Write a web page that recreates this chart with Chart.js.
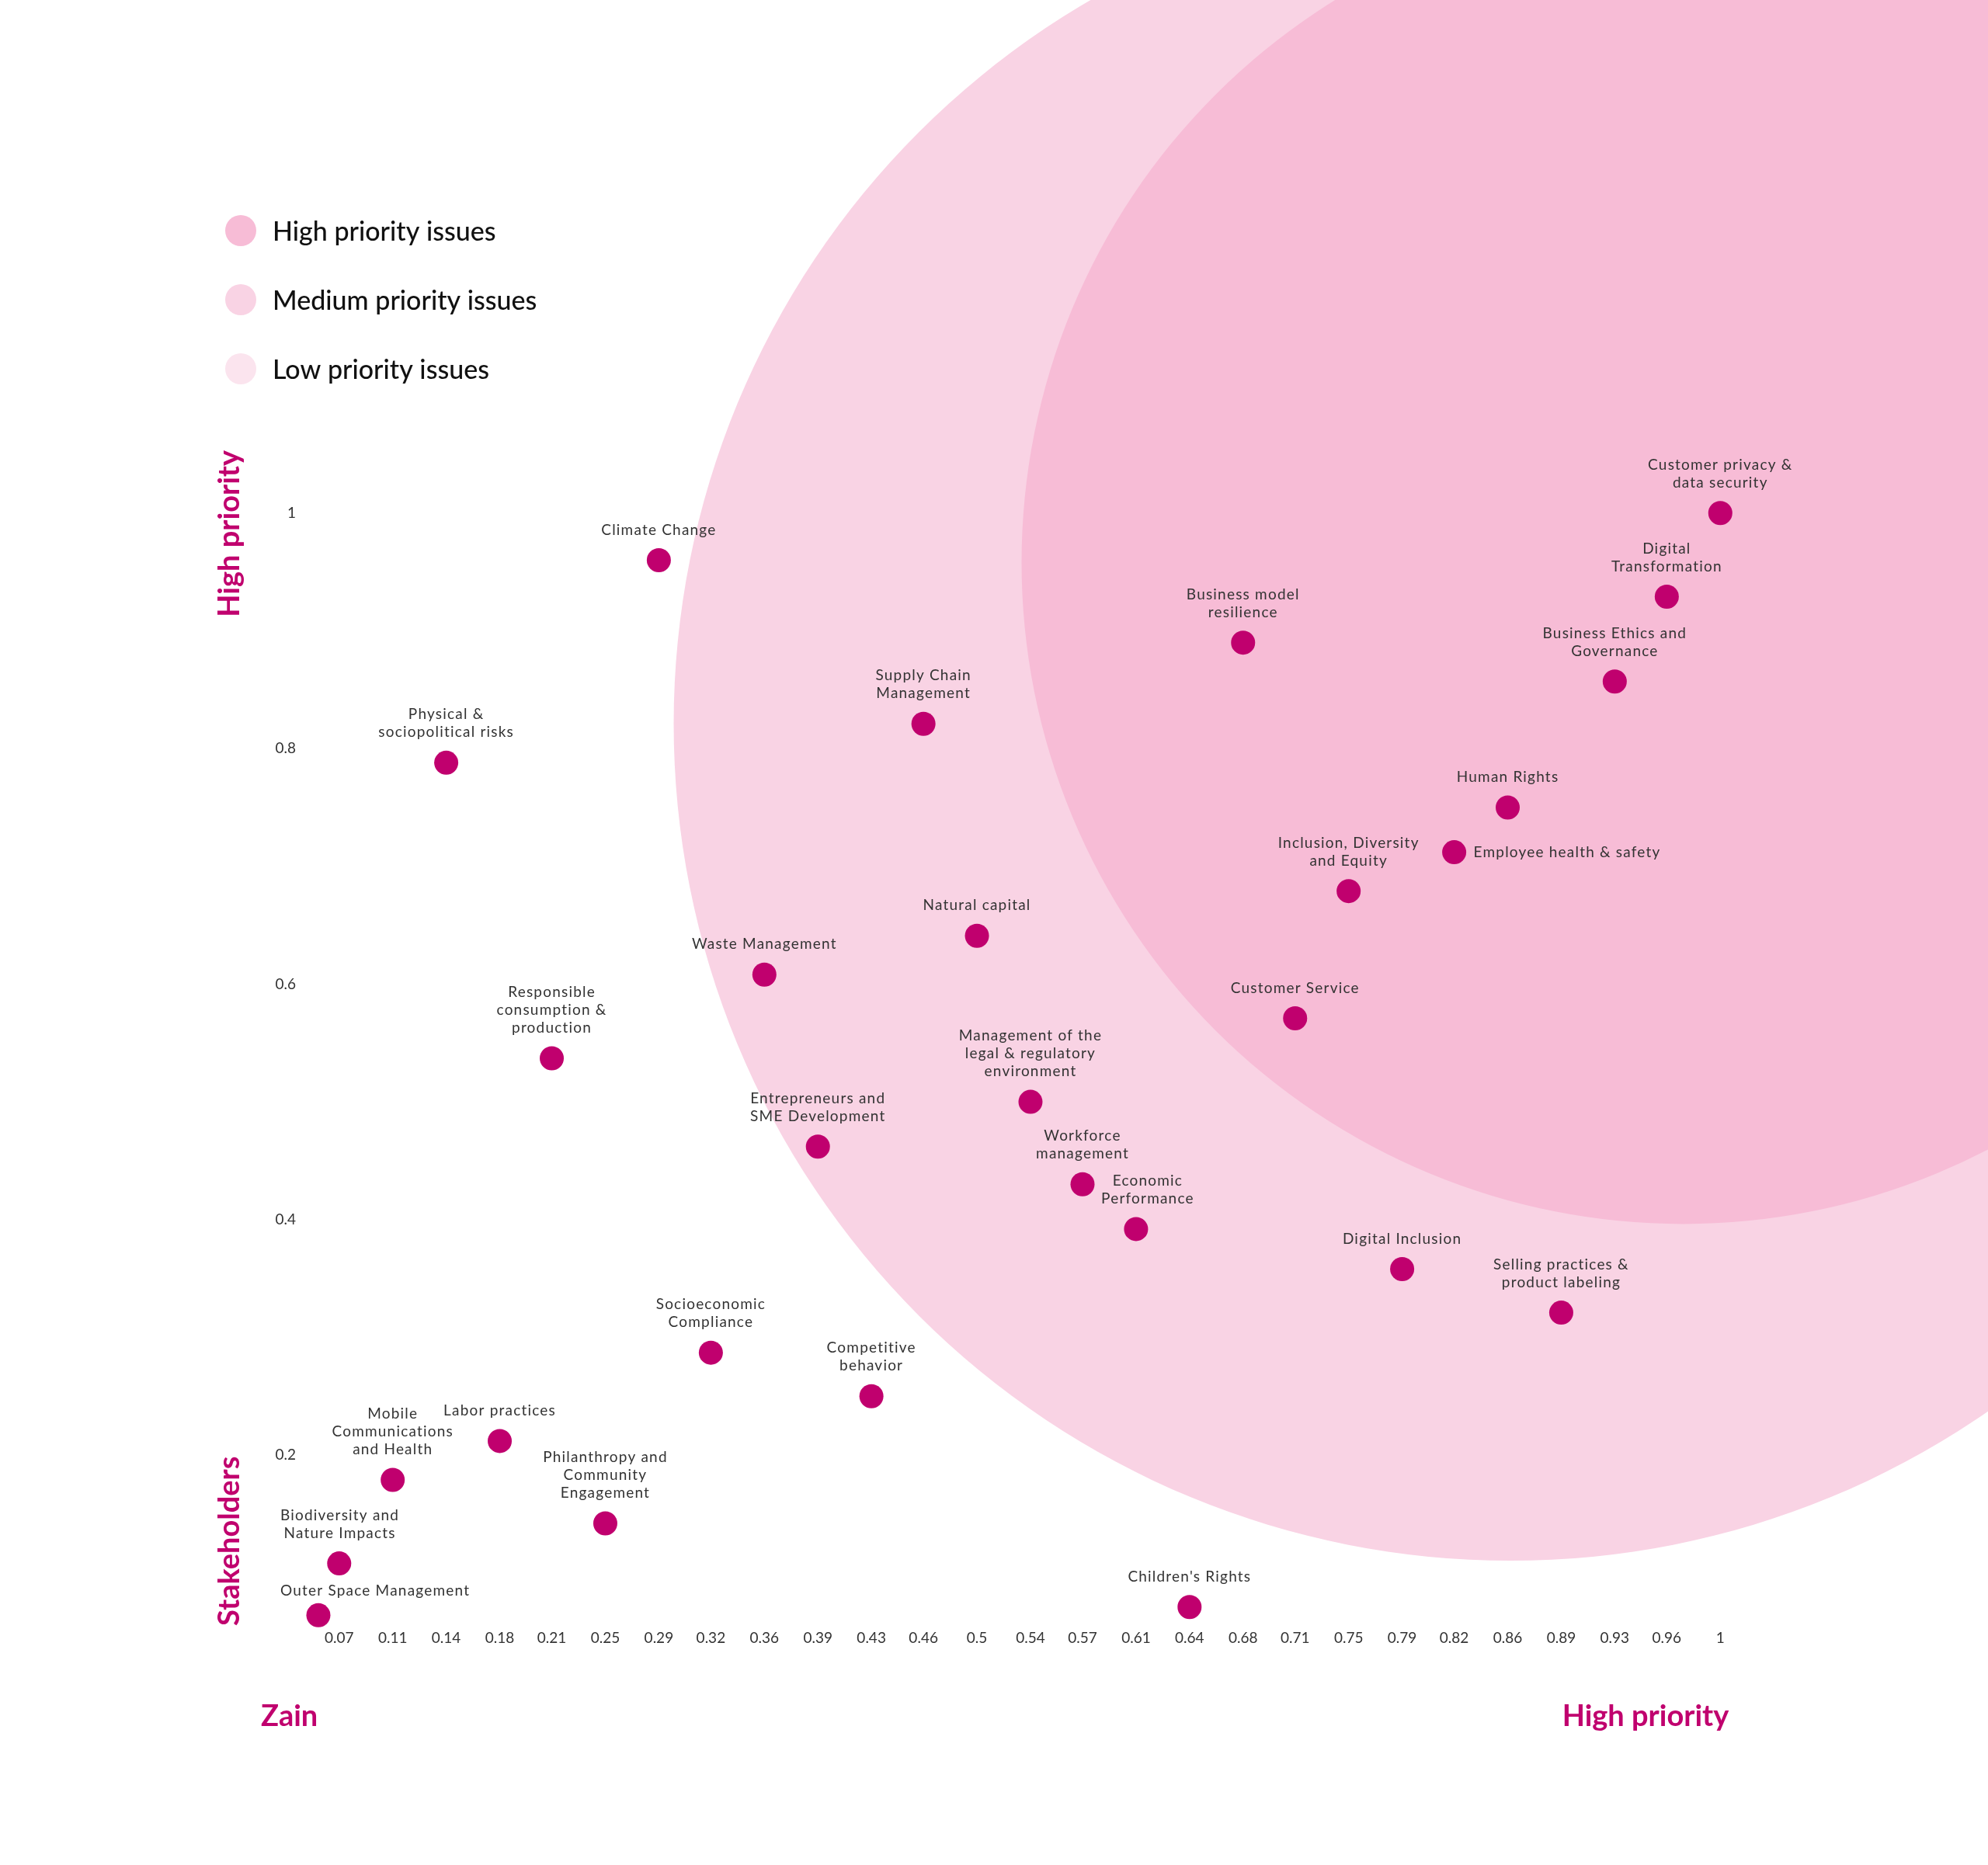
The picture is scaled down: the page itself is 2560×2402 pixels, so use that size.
<!DOCTYPE html>
<html>
<head>
<meta charset="utf-8">
<title>Materiality matrix</title>
<script src="https://cdn.jsdelivr.net/npm/chart.js@4.4.1/dist/chart.umd.min.js"></script>
<style>
  html, body { margin: 0; padding: 0; background: #fff; }
  #wrap { position: relative; width: 2560px; height: 2402px; }
</style>
</head>
<body>
<div id="wrap"><canvas id="matrix-chart"></canvas></div>
<script>
// one entry per issue, each label split in the lines it is printed on
const issueNames = [
    ['Customer privacy &', 'data security'],
    ['Digital', 'Transformation'],
    ['Business Ethics and', 'Governance'],
    ['Business model', 'resilience'],
    ['Climate Change'],
    ['Supply Chain', 'Management'],
    ['Physical &', 'sociopolitical risks'],
    ['Human Rights'],
    ['Employee health & safety'],
    ['Inclusion, Diversity', 'and Equity'],
    ['Natural capital'],
    ['Waste Management'],
    ['Customer Service'],
    ['Responsible', 'consumption &', 'production'],
    ['Management of the', 'legal & regulatory', 'environment'],
    ['Entrepreneurs and', 'SME Development'],
    ['Workforce', 'management'],
    ['Economic', 'Performance'],
    ['Digital Inclusion'],
    ['Selling practices &', 'product labeling'],
    ['Socioeconomic', 'Compliance'],
    ['Competitive', 'behavior'],
    ['Labor practices'],
    ['Mobile', 'Communications', 'and Health'],
    ['Philanthropy and', 'Community', 'Engagement'],
    ['Biodiversity and', 'Nature Impacts'],
    ["Children's Rights"],
    ['Outer Space Management']
];

// importance to Zain (x) and to stakeholders (y)
const zainScores = [
    1, 0.964, 0.929, 0.679, 0.286, 0.464, 0.143, 0.857, 0.821, 0.75,
    0.5, 0.357, 0.714, 0.214, 0.536, 0.393, 0.571, 0.607, 0.786, 0.893,
    0.321, 0.429, 0.179, 0.107, 0.25, 0.071, 0.643, 0.057
];
const stakeholderScores = [
    1, 0.929, 0.857, 0.89, 0.96, 0.821, 0.788, 0.75, 0.712, 0.679,
    0.641, 0.608, 0.571, 0.537, 0.5, 0.462, 0.43, 0.392, 0.358, 0.321,
    0.287, 0.25, 0.212, 0.179, 0.142, 0.108, 0.071, 0.064
];

const xTicks = [
    0.071, 0.107, 0.143, 0.179, 0.214, 0.25, 0.286, 0.321, 0.357, 0.393,
    0.429, 0.464, 0.5, 0.536, 0.571, 0.607, 0.643, 0.679, 0.714, 0.75,
    0.786, 0.821, 0.857, 0.893, 0.929, 0.964, 1
];
const yTicks = [0.2, 0.4, 0.6, 0.8, 1];

const priorityNames = ['High priority issues', 'Medium priority issues', 'Low priority issues'];
const priorityColors = ['#F7BCD6', '#F9D3E4', '#FBE4EE'];

// priority zones: centre and radius (radius in x axis units)
const highZone = [{x: 0.975, y: 0.958, r: 0.445}];
const mediumZone = [{x: 0.859, y: 0.821, r: 0.563}];

// labels written beside the dot instead of above it
const sideLabels = ['Employee health & safety'];
// labels moved a little to keep clear of a neighbour (pixels)
const labelNudges = {
    'Economic Performance': { dx: 15, dy: 0 },
    'Outer Space Management': { dx: 0, dy: 8 }
};

const MAGENTA = '#C0006E';
const LABEL_FONT = '19px Lato';

function issuePoints() {
    var pts = [];
    for (let i = 0; i < zainScores.length; i++) {
        pts.push({ x: zainScores[i], y: stakeholderScores[i] });
    }
    return pts;
}

function zoneRadius(context) {
    const raw = context.raw;
    if (!raw) return 0;
    const xs = context.chart.scales.x;
    return xs.getPixelForValue(raw.r) - xs.getPixelForValue(0);
}

function fmtTick(v) {
    return String(Math.round(v * 100) / 100);
}

const issueLabels = {
    id: 'issueLabels',
    afterDatasetsDraw(chart) {
        const ctx = chart.ctx;
        const meta = chart.getDatasetMeta(0);
        const minLeft = chart.chartArea.left - 26;
        ctx.save();
        ctx.font = LABEL_FONT;
        ctx.fillStyle = '#333';
        ctx.letterSpacing = '1.2px';
        ctx.textBaseline = 'middle';
        meta.data.forEach((pt, i) => {
            const lines = issueNames[i];
            const name = lines.join(' ');
            if (sideLabels.includes(name)) {
                ctx.textAlign = 'left';
                ctx.fillText(lines[0], pt.x + 25, pt.y);
                return;
            }
            const nudge = labelNudges[name] || { dx: 0, dy: 0 };
            let widest = 0;
            lines.forEach(l => { widest = Math.max(widest, ctx.measureText(l).width); });
            let cx = pt.x + nudge.dx;
            if (cx - widest / 2 < minLeft) cx = minLeft + widest / 2;
            ctx.textAlign = 'center';
            for (let k = 0; k < lines.length; k++) {
                const y = pt.y - 39 + nudge.dy - (lines.length - 1 - k) * 23;
                ctx.fillText(lines[k], cx, y);
            }
        });
        ctx.restore();
    }
};

const sideTitles = {
    id: 'sideTitles',
    afterDraw(chart) {
        const ctx = chart.ctx;
        const area = chart.chartArea;
        ctx.save();
        ctx.fillStyle = MAGENTA;
        ctx.font = 'bold 38px Lato';
        ctx.textBaseline = 'middle';

        ctx.save();
        ctx.translate(area.left - 91, area.top - 5);
        ctx.rotate(-Math.PI / 2);
        ctx.textAlign = 'right';
        ctx.fillText('High priority', 0, 0);
        ctx.restore();

        ctx.save();
        ctx.translate(area.left - 91, area.bottom);
        ctx.rotate(-Math.PI / 2);
        ctx.textAlign = 'left';
        ctx.fillText('Stakeholders', 0, 0);
        ctx.restore();

        ctx.textAlign = 'left';
        ctx.fillText('Zain', area.left - 51, area.bottom + 117);
        ctx.textAlign = 'right';
        ctx.fillText('High priority', chart.scales.x.getPixelForValue(1) + 11, area.bottom + 117);
        ctx.restore();
    }
};

const priorityLegend = {
    id: 'priorityLegend',
    afterDraw(chart, args, opts) {
        const ctx = chart.ctx;
        ctx.save();
        ctx.font = '500 34px Lato';
        ctx.textBaseline = 'middle';
        ctx.textAlign = 'left';
        priorityNames.forEach((name, i) => {
            const y = opts.top + i * opts.gap;
            ctx.beginPath();
            ctx.arc(opts.left, y, opts.radius, 0, Math.PI * 2);
            ctx.fillStyle = priorityColors[i];
            ctx.fill();
            ctx.fillStyle = '#111';
            ctx.fillText(name, opts.left + 41, y + 2);
        });
        ctx.restore();
    }
};

function makeMatrixChart() {
    var ctx = document.getElementById('matrix-chart').getContext('2d');
    window.matrixChart = new Chart(ctx, {
        type: 'scatter',
        data: {
            datasets: [{
                label: 'Issues',
                data: issuePoints(),
                backgroundColor: MAGENTA,
                borderWidth: 0,
                pointRadius: 15.5,
                pointHoverRadius: 15.5,
                clip: false
            }, {
                label: priorityNames[0],
                data: highZone,
                backgroundColor: priorityColors[0],
                borderWidth: 0,
                pointRadius: zoneRadius,
                pointHoverRadius: zoneRadius,
                clip: false
            }, {
                label: priorityNames[1],
                data: mediumZone,
                backgroundColor: priorityColors[1],
                borderWidth: 0,
                pointRadius: zoneRadius,
                pointHoverRadius: zoneRadius,
                clip: false
            }]
        },
        options: {
            responsive: true,
            maintainAspectRatio: false,
            animation: false,
            events: [],
            layout: {
                padding: { left: 327, right: 249, top: 585, bottom: 248 }
            },
            scales: {
                x: {
                    type: 'linear',
                    min: 0.045,
                    max: 1.05,
                    grid: { display: false, drawTicks: false },
                    border: { display: false },
                    afterBuildTicks: (s) => { s.ticks = xTicks.map(v => ({ value: v })); },
                    afterFit: (s) => { s.height = 60; },
                    ticks: {
                        autoSkip: false,
                        maxRotation: 0,
                        padding: 4,
                        color: '#333',
                        font: { family: 'Lato', size: 19 },
                        callback: (v) => fmtTick(v)
                    }
                },
                y: {
                    type: 'linear',
                    min: 0.055,
                    max: 1.05,
                    grid: { display: false, drawTicks: false },
                    border: { display: false },
                    afterBuildTicks: (s) => { s.ticks = yTicks.map(v => ({ value: v })); },
                    afterFit: (s) => { s.width = 60; },
                    ticks: {
                        autoSkip: false,
                        padding: 6,
                        color: '#333',
                        font: { family: 'Lato', size: 19 },
                        callback: (v) => fmtTick(v)
                    }
                }
            },
            plugins: {
                legend: { display: false },
                tooltip: { enabled: false },
                priorityLegend: { left: 310, top: 297, gap: 89, radius: 20 }
            }
        },
        plugins: [issueLabels, sideTitles, priorityLegend]
    });
}

makeMatrixChart();
</script>
</body>
</html>
